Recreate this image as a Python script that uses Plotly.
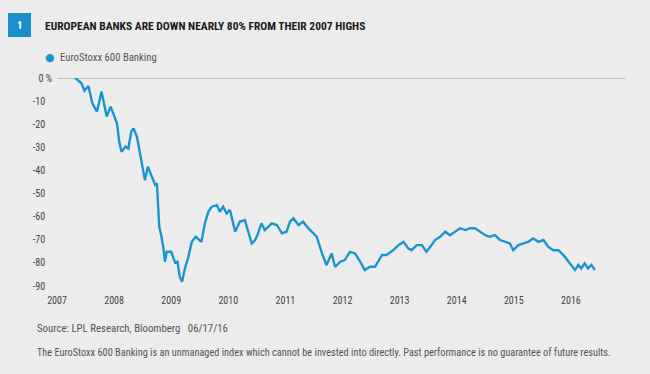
import plotly.graph_objects as go

TITLE = "EUROPEAN BANKS ARE DOWN NEARLY 80% FROM THEIR 2007 HIGHS"
SERIES_NAME = "EuroStoxx 600 Banking"
SOURCE = "Source: LPL Research, Bloomberg   06/17/16"
DISCLAIMER = ("The EuroStoxx 600 Banking is an unmanaged index which cannot be invested into directly. "
              "Past performance is no guarantee of future results.")

years = [2007.32, 2007.36, 2007.43, 2007.48, 2007.55, 2007.62, 2007.70, 2007.78, 2007.87, 2007.94,
         2008.05, 2008.09, 2008.13, 2008.20, 2008.25, 2008.30, 2008.34, 2008.40, 2008.47, 2008.54,
         2008.59, 2008.66, 2008.72, 2008.75, 2008.79, 2008.83, 2008.86, 2008.89, 2008.92, 2009.00,
         2009.07, 2009.11, 2009.15, 2009.19, 2009.24, 2009.30, 2009.36, 2009.43, 2009.53, 2009.59,
         2009.65, 2009.71, 2009.80, 2009.85, 2009.91, 2009.97, 2010.03, 2010.12, 2010.20, 2010.29,
         2010.35, 2010.41, 2010.47, 2010.51, 2010.58, 2010.64, 2010.76, 2010.85, 2010.94, 2011.02,
         2011.08, 2011.14, 2011.23, 2011.31, 2011.40, 2011.49, 2011.55, 2011.64, 2011.72, 2011.81,
         2011.87, 2011.96, 2012.04, 2012.13, 2012.22, 2012.31, 2012.39, 2012.48, 2012.57, 2012.69,
         2012.77, 2012.89, 2012.98, 2013.07, 2013.15, 2013.21, 2013.30, 2013.39, 2013.47, 2013.56,
         2013.62, 2013.71, 2013.80, 2013.88, 2013.97, 2014.06, 2014.15, 2014.23, 2014.32, 2014.41,
         2014.50, 2014.58, 2014.67, 2014.76, 2014.85, 2014.93, 2014.99, 2015.08, 2015.17, 2015.25,
         2015.34, 2015.43, 2015.52, 2015.60, 2015.69, 2015.78, 2015.87, 2015.98, 2016.07, 2016.13,
         2016.18, 2016.24, 2016.30, 2016.36, 2016.42]

pct_change = [0.0, -1.0, -2.3, -5.5, -3.5, -11.0, -14.6, -5.9, -16.7, -12.4,
              -19.6, -27.5, -31.9, -29.7, -30.5, -23.2, -21.8, -25.4, -35.5, -44.2,
              -38.4, -42.7, -46.3, -45.6, -64.4, -68.7, -73.0, -79.5, -75.2, -75.2,
              -80.0, -79.5, -86.0, -88.2, -82.4, -77.4, -70.9, -68.7, -70.9, -62.9,
              -57.9, -55.7, -55.0, -57.9, -55.7, -58.6, -57.1, -66.5, -62.2, -61.5,
              -67.2, -71.6, -70.1, -68.0, -62.9, -65.8, -62.9, -63.6, -67.2, -66.5,
              -62.2, -60.7, -63.6, -62.2, -65.0, -67.2, -68.7, -75.9, -80.9, -75.9,
              -81.7, -79.5, -78.8, -75.2, -75.9, -79.5, -83.1, -81.7, -81.7, -76.6,
              -76.6, -74.5, -72.3, -70.9, -73.7, -74.5, -72.3, -72.3, -75.2, -72.3,
              -70.1, -68.7, -66.5, -68.0, -66.5, -65.0, -65.8, -65.0, -65.0, -66.5,
              -68.0, -68.7, -68.0, -70.1, -70.9, -71.6, -74.5, -72.3, -71.6, -70.9,
              -69.4, -70.9, -70.1, -73.0, -74.5, -74.5, -76.6, -80.2, -83.1, -80.9,
              -82.4, -80.2, -82.4, -80.9, -83.1]

x_tick_vals = [2007, 2008, 2009, 2010, 2011, 2012, 2013, 2014, 2015, 2016]
x_tick_text = ["2007", "2008", "2009", "2010", "2011", "2012", "2013", "2014", "2015", "2016"]
y_tick_vals = [0, -10, -20, -30, -40, -50, -60, -70, -80, -90]
y_tick_text = ["0 %", "-10&nbsp;&nbsp;&nbsp;", "-20&nbsp;&nbsp;&nbsp;", "-30&nbsp;&nbsp;&nbsp;",
               "-40&nbsp;&nbsp;&nbsp;", "-50&nbsp;&nbsp;&nbsp;", "-60&nbsp;&nbsp;&nbsp;",
               "-70&nbsp;&nbsp;&nbsp;", "-80&nbsp;&nbsp;&nbsp;", "-90&nbsp;&nbsp;&nbsp;"]

assert len(years) == len(pct_change)

BLUE = "#1b95cf"
FONT = "Roboto Condensed, Open Sans Condensed, sans-serif"

fig = go.Figure()
fig.add_trace(go.Scatter(x=years, y=pct_change, mode="lines", name=SERIES_NAME,
                         line=dict(color=BLUE, width=2.4), showlegend=False))

# zero reference line
fig.add_shape(type="line", xref="x", yref="y", x0=2007.0, x1=2016.95, y0=0, y1=0,
              line=dict(color="#8a8a8a", width=1.2), layer="below")

L, R, T, B = 57, 22, 78, 88
PW, PH = 650 - L - R, 374 - T - B


def px(xp):
    return (xp - L) / PW


def py(yp):
    return (374 - B - yp) / PH


# number box
fig.add_shape(type="rect", xref="paper", yref="paper",
              x0=px(8), x1=px(31), y0=py(37), y1=py(13),
              fillcolor="#1a8fcb", line=dict(width=0))
fig.add_annotation(xref="paper", yref="paper", x=px(19.5), y=py(25), text="<b>1</b>",
                   showarrow=False, font=dict(color="white", size=11, family=FONT),
                   xanchor="center", yanchor="middle")
# title
fig.add_annotation(xref="paper", yref="paper", x=px(43), y=py(26), text="<b>" + TITLE + "</b>",
                   showarrow=False, font=dict(color="#1a1a1a", size=11.5, family=FONT),
                   xanchor="left", yanchor="middle")
# legend
fig.add_annotation(xref="paper", yref="paper", x=px(50), y=py(58), text="●",
                   showarrow=False, font=dict(color=BLUE, size=11, family="DejaVu Sans"),
                   xanchor="center", yanchor="middle")
fig.add_annotation(xref="paper", yref="paper", x=px(58), y=py(58), text=SERIES_NAME,
                   showarrow=False, font=dict(color="#555555", size=10.7, family=FONT),
                   xanchor="left", yanchor="middle")
# footnotes
fig.add_annotation(xref="paper", yref="paper", x=px(35), y=py(328), text=SOURCE,
                   showarrow=False, font=dict(color="#555555", size=10.8, family=FONT),
                   xanchor="left", yanchor="middle")
fig.add_annotation(xref="paper", yref="paper", x=px(35), y=py(352), text=DISCLAIMER,
                   showarrow=False, font=dict(color="#555555", size=10.3, family=FONT),
                   xanchor="left", yanchor="middle")

fig.update_layout(
    width=650, height=374,
    margin=dict(l=L, r=R, t=T, b=B),
    paper_bgcolor="#ececec", plot_bgcolor="#ececec",
    font=dict(family=FONT, color="#444444", size=10),
    xaxis=dict(range=[2007, 2017], tickvals=x_tick_vals, ticktext=x_tick_text,
               showgrid=False, zeroline=False, showline=False,
               ticks="", ticklabelstandoff=7,
               tickfont=dict(size=10, color="#444444")),
    yaxis=dict(range=[-90, 0], tickvals=y_tick_vals, ticktext=y_tick_text,
               showgrid=False, zeroline=False, showline=False,
               ticks="", ticklabelstandoff=4,
               tickfont=dict(size=10, color="#444444")),
    showlegend=False,
)

fig.write_html("out.html", config={"displayModeBar": False},
               post_script="document.body.style.margin='0';document.body.style.background='#ececec';")
